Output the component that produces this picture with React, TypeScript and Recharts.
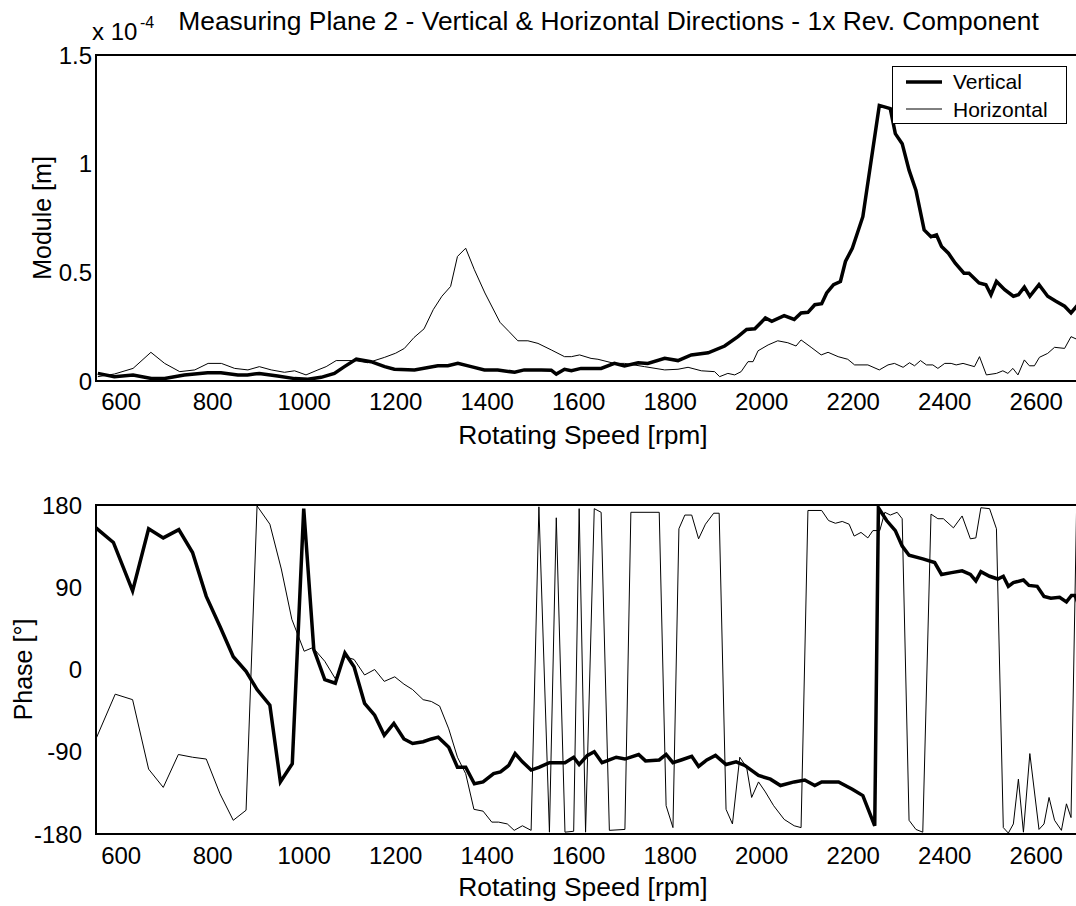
import React from "react";
import {
  LineChart,
  Line,
  XAxis,
  YAxis,
  ReferenceArea,
  Legend,
} from "recharts";

const FONT = "'Liberation Sans', Arial, Helvetica, sans-serif";

// ─── Data ───────────────────────────────────────────────────────
// speeds in rpm, module in units of 1e-4 m, phase in degrees

const speedTicks = [600, 800, 1000, 1200, 1400, 1600, 1800, 2000, 2200, 2400, 2600];
const moduleTicks = [0, 0.5, 1, 1.5];
const phaseTicks = [-180, -90, 0, 90, 180];

const vertModRpm = [
  549, 585, 626, 666, 695, 738, 789, 818, 855, 876, 902, 942, 979, 1008, 1037, 1066, 1088, 1114,
  1146, 1176, 1197, 1241, 1292, 1314, 1336, 1365, 1394, 1423, 1460, 1481, 1518, 1540, 1551, 1569,
  1584, 1605, 1649, 1678, 1700, 1730, 1751, 1788, 1817, 1846, 1883, 1919, 1948, 1967, 1985, 2008,
  2022, 2049, 2071, 2086, 2101, 2116, 2131, 2142, 2157, 2172, 2183, 2198, 2221, 2257, 2281, 2292,
  2307, 2322, 2337, 2355, 2370, 2382, 2393, 2408, 2423, 2442, 2453, 2475, 2490, 2501, 2513, 2531,
  2550, 2561, 2574, 2586, 2606, 2625, 2643, 2662, 2676, 2691,
];
const vertModVal = [
  0.035, 0.02, 0.028, 0.012, 0.012, 0.028, 0.038, 0.038, 0.028, 0.028, 0.035, 0.023, 0.011, 0.008,
  0.017, 0.035, 0.066, 0.101, 0.089, 0.066, 0.054, 0.051, 0.07, 0.07, 0.081, 0.066, 0.051, 0.051,
  0.04, 0.051, 0.051, 0.05, 0.032, 0.054, 0.047, 0.058, 0.058, 0.081, 0.069, 0.084, 0.081, 0.104,
  0.094, 0.12, 0.13, 0.161, 0.204, 0.237, 0.24, 0.29, 0.275, 0.301, 0.283, 0.313, 0.316, 0.351,
  0.356, 0.405, 0.443, 0.458, 0.55, 0.611, 0.756, 1.268, 1.253, 1.138, 1.092, 0.97, 0.878, 0.695,
  0.664, 0.672, 0.619, 0.588, 0.542, 0.496, 0.496, 0.451, 0.443, 0.397, 0.458, 0.42, 0.39, 0.397,
  0.432, 0.39, 0.443, 0.39, 0.367, 0.344, 0.313, 0.351,
];

const horModRpm = [
  549, 585, 626, 665, 695, 728, 761, 790, 819, 848, 877, 902, 928, 957, 979, 1004, 1030, 1048, 1070,
  1110, 1139, 1176, 1200, 1219, 1240, 1262, 1282, 1301, 1320, 1335, 1353, 1372, 1395, 1428, 1447,
  1467, 1489, 1511, 1540, 1569, 1584, 1602, 1627, 1642, 1678, 1700, 1744, 1788, 1817, 1839, 1868,
  1897, 1908, 1926, 1941, 1955, 1970, 1981, 1992, 2014, 2035, 2057, 2075, 2086, 2108, 2130, 2145,
  2167, 2188, 2203, 2232, 2257, 2276, 2290, 2309, 2323, 2334, 2347, 2360, 2374, 2385, 2400, 2414,
  2425, 2440, 2465, 2476, 2491, 2513, 2527, 2538, 2549, 2560, 2574, 2585, 2596, 2607, 2625, 2640,
  2662, 2676, 2691,
];
const horModVal = [
  0.02, 0.032, 0.058, 0.132, 0.081, 0.043, 0.051, 0.081, 0.081, 0.058, 0.051, 0.066, 0.051, 0.04,
  0.047, 0.028, 0.051, 0.066, 0.094, 0.094, 0.084, 0.109, 0.128, 0.15, 0.2, 0.24, 0.328, 0.39, 0.435,
  0.573, 0.611, 0.512, 0.405, 0.27, 0.229, 0.185, 0.185, 0.173, 0.143, 0.112, 0.112, 0.12, 0.104, 0.1,
  0.081, 0.081, 0.066, 0.051, 0.054, 0.063, 0.047, 0.043, 0.02, 0.035, 0.028, 0.043, 0.089, 0.089,
  0.139, 0.166, 0.185, 0.176, 0.161, 0.189, 0.155, 0.12, 0.132, 0.112, 0.1, 0.074, 0.074, 0.051,
  0.074, 0.081, 0.063, 0.084, 0.07, 0.094, 0.074, 0.074, 0.058, 0.081, 0.081, 0.074, 0.081, 0.066,
  0.112, 0.028, 0.035, 0.047, 0.035, 0.058, 0.028, 0.097, 0.07, 0.07, 0.109, 0.127, 0.155, 0.15,
  0.204, 0.19,
];

const vertPhaseRpm = [
  545, 583, 625, 660, 692, 726, 756, 786, 816, 845, 873, 897, 925, 948, 974, 999, 1021, 1045, 1068,
  1089, 1109, 1132, 1154, 1175, 1196, 1218, 1237, 1260, 1278, 1293, 1316, 1335, 1353, 1372, 1391,
  1414, 1429, 1447, 1461, 1477, 1496, 1513, 1536, 1570, 1589, 1601, 1619, 1634, 1651, 1667, 1682,
  1701, 1731, 1746, 1776, 1791, 1806, 1824, 1847, 1862, 1880, 1899, 1922, 1944, 1963, 1993, 2019,
  2041, 2071, 2094, 2116, 2131, 2168, 2198, 2221, 2247, 2255, 2273, 2292, 2307, 2322, 2352, 2378,
  2393, 2415, 2438, 2456, 2468, 2479, 2498, 2516, 2528, 2539, 2550, 2572, 2584, 2602, 2617, 2632,
  2651, 2666, 2677, 2685, 2691,
];
const vertPhaseVal = [
  155, 139, 86, 154, 144, 153, 128, 80, 47, 14, -2, -22, -39, -123, -103, 176, 22, -11, -15, 18, 3,
  -37, -50, -72, -59, -76, -81, -79, -76, -74, -85, -107, -107, -125, -123, -114, -112, -105, -92,
  -101, -110, -107, -102, -102, -96, -104, -94, -90, -102, -99, -96, -98, -93, -100, -99, -93, -102,
  -99, -95, -106, -99, -94, -104, -101, -105, -116, -120, -127, -123, -121, -127, -123, -123, -131,
  -138, -171, 177, 163, 152, 135, 125, 121, 117, 104, 106, 108, 104, 97, 107, 102, 99, 102, 91, 95,
  98, 92, 91, 80, 78, 79, 74, 81, 81, 73,
];

const horPhaseRpm = [
  544, 587, 625, 660, 692, 725, 756, 786, 816, 845, 873, 897, 925, 950, 973, 1000, 1019, 1045, 1068,
  1089, 1109, 1132, 1154, 1175, 1198, 1218, 1237, 1260, 1278, 1296, 1316, 1335, 1353, 1371, 1391,
  1410, 1425, 1444, 1459, 1477, 1496, 1513, 1536, 1551, 1570, 1589, 1601, 1615, 1634, 1649, 1667,
  1701, 1714, 1776, 1791, 1806, 1819, 1832, 1847, 1862, 1877, 1895, 1907, 1922, 1936, 1952, 1967,
  1978, 1993, 2008, 2026, 2049, 2071, 2086, 2101, 2131, 2146, 2161, 2176, 2191, 2202, 2217, 2232,
  2243, 2258, 2269, 2281, 2296, 2307, 2322, 2337, 2352, 2370, 2385, 2397, 2419, 2438, 2456, 2468,
  2479, 2498, 2513, 2528, 2539, 2550, 2561, 2572, 2586, 2606, 2617, 2628, 2640, 2655, 2666, 2676,
  2688, 2692,
];
const horPhaseVal = [
  -77, -27, -33, -109, -129, -93, -96, -98, -136, -165, -154, 179, 159, 110, 55, 20, 24, 9, -10, 14,
  11, -6, 0, -13, -8, -16, -22, -33, -35, -40, -65, -96, -114, -153, -155, -167, -167, -169, -176,
  -171, -176, 178, -178, 166, -178, -177, 176, -178, 176, 172, -176, -175, 172, 172, -149, -173, 154,
  169, 169, 143, 159, 171, 171, -153, -169, -96, -107, -140, -123, -134, -149, -164, -171, -173, 174,
  174, 163, 160, 162, 159, 146, 150, 144, 152, 152, 172, 169, 172, 165, -165, -175, -178, 170, 165,
  165, 155, 168, 143, 144, 177, 176, 154, -173, -179, -169, -120, -178, -92, -175, -169, -140, -165,
  -176, -147, -162, 172, 120,
];

const zip = (xs: number[], ys: number[]) => xs.map((rpm, i) => ({ rpm, v: ys[i] }));

const vertModule = zip(vertModRpm, vertModVal);
const horModule = zip(horModRpm, horModVal);
const vertPhase = zip(vertPhaseRpm, vertPhaseVal);
const horPhase = zip(horPhaseRpm, horPhaseVal);

const X_DOMAIN: [number, number] = [545, 2700];
const tickStyle = { fontSize: 24, fill: "#000", fontFamily: FONT };
// MATLAB draws titles and axis labels a bit larger than the tick font
const xLabelStyle = { fontSize: 26.4, fill: "#000", fontFamily: FONT, textAnchor: "middle" as const };
const yLabelStyle = { fontSize: 25, fill: "#000", fontFamily: FONT, textAnchor: "middle" as const };

const LEGEND_ORDER = ["Vertical", "Horizontal"];
const LEGEND_WIDTHS: Record<string, number> = { Vertical: 3.5, Horizontal: 1 };

function LegendBox({ payload }: any) {
  const items = [...(payload || [])].sort(
    (a: any, b: any) => LEGEND_ORDER.indexOf(a.value) - LEGEND_ORDER.indexOf(b.value)
  );
  return (
    <div
      style={{
        width: 175,
        height: 58,
        boxSizing: "border-box",
        border: "1.5px solid #000",
        background: "#fff",
        fontFamily: FONT,
        fontSize: 21,
        paddingTop: 1,
      }}
    >
      {items.map((entry: any) => (
        <div key={entry.value} style={{ display: "flex", alignItems: "center", height: 27.5 }}>
          <svg width={60} height={10} style={{ display: "block" }}>
            <line x1={13} x2={49} y1={5} y2={5} stroke="#000" strokeWidth={LEGEND_WIDTHS[entry.value] ?? 1} />
          </svg>
          <span style={{ lineHeight: "21px" }}>{entry.value}</span>
        </div>
      ))}
    </div>
  );
}

// ─── Module (top) ───────────────────────────────────────────────

function ModuleChart() {
  return (
    <LineChart width={1090} height={460} margin={{ top: 55, right: 8, bottom: 16, left: 0 }}>
      <XAxis
        type="number"
        dataKey="rpm"
        domain={X_DOMAIN}
        allowDataOverflow
        ticks={speedTicks}
        tick={tickStyle}
        tickLine={false}
        axisLine={false}
        tickSize={0}
        tickMargin={12}
        height={63}
        label={{ value: "Rotating Speed [rpm]", position: "insideBottom", offset: 0, dx: -6, style: xLabelStyle }}
      />
      <YAxis
        type="number"
        domain={[0, 1.5]}
        allowDataOverflow
        ticks={moduleTicks}
        tick={tickStyle}
        tickLine={false}
        axisLine={false}
        tickSize={0}
        tickMargin={4}
        width={96}
        tickFormatter={(v) => String(v)}
        label={{ value: "Module [m]", angle: -90, position: "insideLeft", offset: 31, dx: 11, style: yLabelStyle }}
      />
      <ReferenceArea
        x1={X_DOMAIN[0]}
        x2={X_DOMAIN[1]}
        y1={0}
        y2={1.5}
        fill="none"
        stroke="#000"
        strokeWidth={2}
        ifOverflow="visible"
      />
      <Line data={vertModule} dataKey="v" name="Vertical" type="linear" stroke="#000" strokeWidth={3.5} dot={false} isAnimationActive={false} />
      <Line data={horModule} dataKey="v" name="Horizontal" type="linear" stroke="#000" strokeWidth={1} dot={false} isAnimationActive={false} />
      <Legend
        layout="vertical"
        align="center"
        verticalAlign="middle"
        content={<LegendBox />}
        wrapperStyle={{ left: 892, top: 66, width: 175, height: 58 }}
      />
    </LineChart>
  );
}

// ─── Phase (bottom) ─────────────────────────────────────────────

function PhaseChart() {
  return (
    <LineChart width={1090} height={456} margin={{ top: 55, right: 8, bottom: 10, left: 0 }}>
      <XAxis
        type="number"
        dataKey="rpm"
        domain={X_DOMAIN}
        allowDataOverflow
        ticks={speedTicks}
        tick={tickStyle}
        tickLine={false}
        axisLine={false}
        tickSize={0}
        tickMargin={13}
        height={62}
        label={{ value: "Rotating Speed [rpm]", position: "insideBottom", offset: 0, dx: -6, style: xLabelStyle }}
      />
      <YAxis
        type="number"
        domain={[-180, 180]}
        allowDataOverflow
        ticks={phaseTicks}
        tick={tickStyle}
        tickLine={false}
        axisLine={false}
        tickSize={0}
        tickMargin={14}
        width={96}
        label={{ value: "Phase [°]", angle: -90, position: "insideLeft", offset: 21, dx: 2, style: yLabelStyle }}
      />
      <ReferenceArea
        x1={X_DOMAIN[0]}
        x2={X_DOMAIN[1]}
        y1={-180}
        y2={180}
        fill="none"
        stroke="#000"
        strokeWidth={2}
        ifOverflow="visible"
      />
      <Line data={vertPhase} dataKey="v" name="Vertical" type="linear" stroke="#000" strokeWidth={3.5} dot={false} isAnimationActive={false} />
      <Line data={horPhase} dataKey="v" name="Horizontal" type="linear" stroke="#000" strokeWidth={1} dot={false} isAnimationActive={false} />
    </LineChart>
  );
}

export default function App() {
  return (
    <div
      style={{
        position: "fixed",
        left: 0,
        top: 0,
        width: 1076,
        height: 906,
        overflow: "hidden",
        background: "#fff",
        fontFamily: FONT,
        color: "#000",
      }}
    >
      <div
        style={{
          position: "absolute",
          left: 0,
          top: 8,
          width: 1217,
          textAlign: "center",
          fontSize: 26.4,
          lineHeight: "26.4px",
          whiteSpace: "nowrap",
        }}
      >
        Measuring Plane 2 - Vertical &amp; Horizontal Directions - 1x Rev. Component
      </div>
      <div style={{ position: "absolute", left: 92, top: 20, fontSize: 24, lineHeight: "24px", whiteSpace: "nowrap" }}>
        x 10
      </div>
      <div style={{ position: "absolute", left: 140, top: 15, fontSize: 16, lineHeight: "16px" }}>-4</div>
      <div style={{ position: "absolute", left: 0, top: 0 }}>
        <ModuleChart />
      </div>
      <div style={{ position: "absolute", left: 0, top: 450 }}>
        <PhaseChart />
      </div>
    </div>
  );
}
